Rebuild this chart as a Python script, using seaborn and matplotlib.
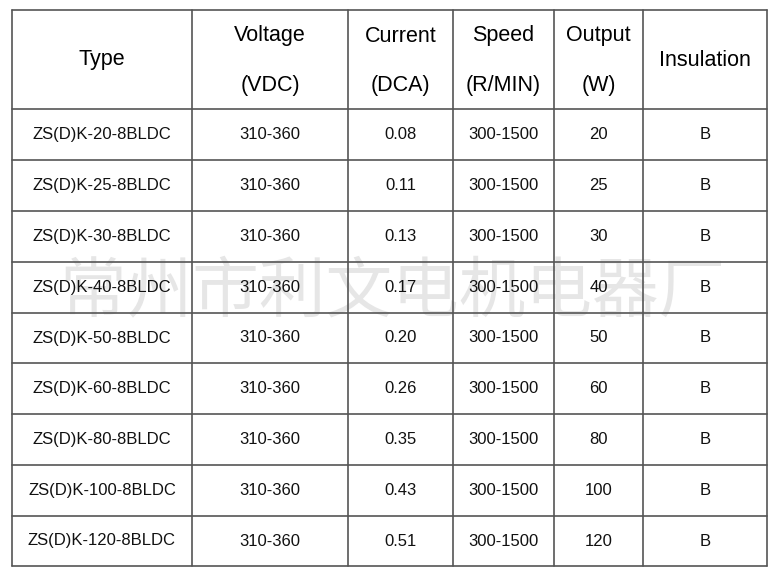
import matplotlib
matplotlib.use("Agg")
import matplotlib.pyplot as plt
import seaborn as sns

sns.set_theme(style="white")
plt.rcParams['font.family'] = ['Liberation Sans', 'Noto Sans CJK SC', 'DejaVu Sans']

headers = [["Type"], ["Voltage", "(VDC)"], ["Current", "(DCA)"], ["Speed", "(R/MIN)"], ["Output", "(W)"], ["Insulation"]]
types = ["ZS(D)K-20-8BLDC", "ZS(D)K-25-8BLDC", "ZS(D)K-30-8BLDC", "ZS(D)K-40-8BLDC", "ZS(D)K-50-8BLDC",
         "ZS(D)K-60-8BLDC", "ZS(D)K-80-8BLDC", "ZS(D)K-100-8BLDC", "ZS(D)K-120-8BLDC"]
voltage = ["310-360"] * 9
current = ["0.08", "0.11", "0.13", "0.17", "0.20", "0.26", "0.35", "0.43", "0.51"]
speed = ["300-1500"] * 9
output = ["20", "25", "30", "40", "50", "60", "80", "100", "120"]
insulation = ["B"] * 9
watermark = "常州市利文电机电器厂"

col_x = [12, 192, 348, 453, 554, 643, 767]
row_y = [10, 109, 160, 211, 262, 313, 363, 414, 465, 516, 566]

fig = plt.figure(figsize=(7.79, 5.76), dpi=100)
ax = fig.add_axes([0, 0, 1, 1])
ax.set_xlim(0, 779)
ax.set_ylim(576, 0)
ax.axis("off")

ax.text(392, 294, watermark, ha="center", va="center", fontsize=48, color="#e6e6e6",
        family=['Noto Sans CJK SC'], fontweight="light", zorder=0)

for x in col_x:
    ax.plot([x, x], [row_y[0], row_y[-1]], color="#555555", lw=1.2, zorder=2)
for y in row_y:
    ax.plot([col_x[0], col_x[-1]], [y, y], color="#555555", lw=1.2, zorder=2)

for i, h in enumerate(headers):
    cx = (col_x[i] + col_x[i + 1]) / 2
    if len(h) == 1:
        ax.text(cx, 60, h[0], ha="center", va="center", fontsize=15.5, color="black", zorder=3)
    else:
        ax.text(cx, 36, h[0], ha="center", va="center", fontsize=15.5, color="black", zorder=3)
        ax.text(cx, 86, h[1], ha="center", va="center", fontsize=15.5, color="black", zorder=3)

cols = [types, voltage, current, speed, output, insulation]
for j, col in enumerate(cols):
    cx = (col_x[j] + col_x[j + 1]) / 2
    for r, v in enumerate(col):
        cy = (row_y[r + 1] + row_y[r + 2]) / 2
        ax.text(cx, cy, v, ha="center", va="center", fontsize=12, color="#111111", zorder=3)

fig.savefig("out.png", dpi=100, facecolor="white")
